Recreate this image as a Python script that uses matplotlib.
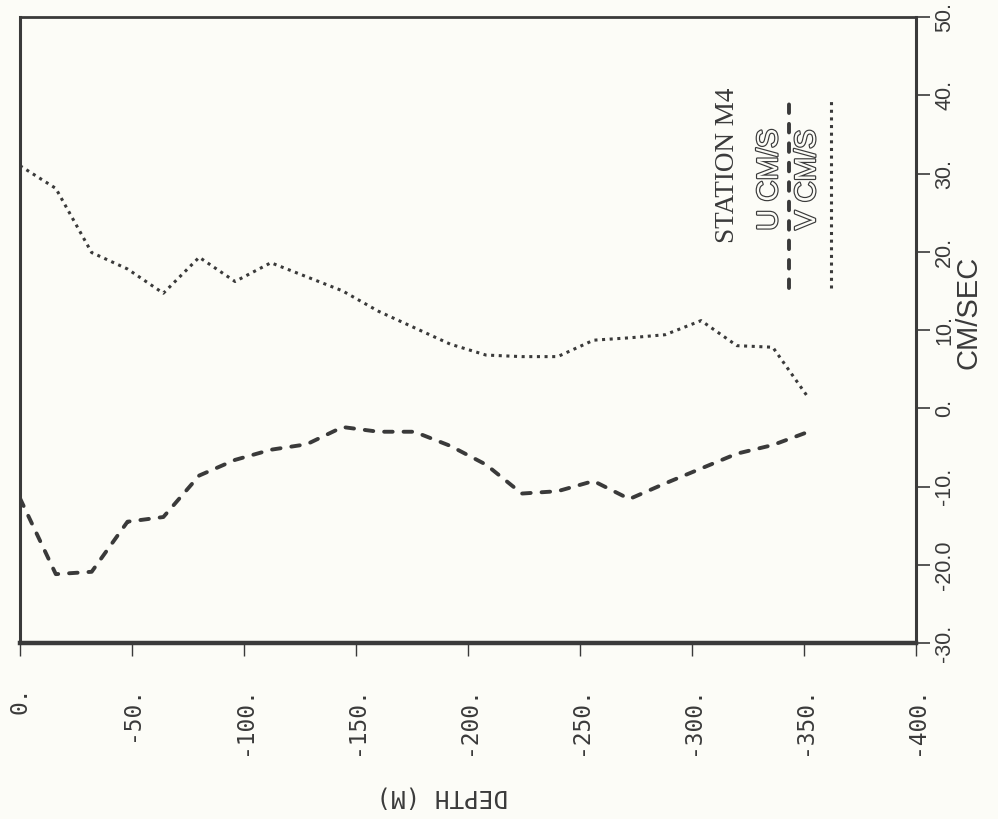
import matplotlib
matplotlib.use("Agg")
import matplotlib.pyplot as plt
import matplotlib.patheffects as pe

# Current-meter profile, station M4
depth_m = [0, -16, -32, -48, -64, -80, -96, -112, -128, -144, -160, -176,
           -192, -208, -224, -240, -256, -272, -288, -304, -320, -336, -352]
u_cms = [-11.5, -21.2, -20.9, -14.5, -13.9, -8.6, -6.6, -5.3, -4.6, -2.4,
         -3.0, -3.0, -4.8, -7.2, -10.9, -10.6, -9.3, -11.6, -9.6, -7.7,
         -5.8, -4.7, -3.0]
v_cms = [31.0, 28.1, 19.9, 17.8, 14.7, 19.3, 16.2, 18.6, 16.8, 15.0, 12.4,
         10.3, 8.2, 6.8, 6.6, 6.6, 8.7, 9.0, 9.4, 11.2, 8.0, 7.8, 1.3]

depth_ticks = [0, -50, -100, -150, -200, -250, -300, -350, -400]
depth_labels = ["0.", "-50.", "-100.", "-150.", "-200.", "-250.", "-300.",
                "-350.", "-400."]
speed_ticks = [-30, -20, -10, 0, 10, 20, 30, 40, 50]
speed_labels = ["-30.", "-20.0", "-10.", "0.", "10.", "20.", "30.", "40.", "50."]

ink = "#3a3a3a"
paper = "#fcfcf7"
dash_u = (0, (2.2, 2.8))
dot_v = (0, (1, 1.5))

fig = plt.figure(figsize=(9.98, 8.19), dpi=100, facecolor=paper)
ax = fig.add_axes([0.020, 0.2149, 0.898, 0.7643], facecolor=paper)

ax.plot(depth_m, u_cms, color=ink, lw=2.8, linestyle=dash_u,
        dash_capstyle="round")
ax.plot(depth_m, v_cms, color=ink, lw=2.2, linestyle=dot_v,
        dash_capstyle="butt")

ax.set_xlim(0, -400)
ax.set_ylim(-30, 50)

for side, w in (("left", 2.2), ("right", 2.2), ("top", 2.0), ("bottom", 3.2)):
    ax.spines[side].set_linewidth(w)
    ax.spines[side].set_color(ink)

mono = "DejaVu Sans Mono"
ax.set_xticks(depth_ticks)
ax.set_xticklabels(depth_labels, rotation=90, family=mono, fontsize=16.5,
                   color=ink)
ax.tick_params(axis="x", direction="out", length=9, width=1.0, colors=ink,
               pad=22)

ax.yaxis.tick_right()
ax.set_yticks(speed_ticks)
ax.set_yticklabels(speed_labels, rotation=90, family="Liberation Sans",
                   fontsize=15.5, color=ink, va="center")
ax.tick_params(axis="y", direction="out", length=10, width=1.2, colors=ink,
               pad=3)

# Axis titles
fig.text(0.970, 1 - 312 / 819, "CM/SEC", rotation=90, ha="center",
         va="center", family="Liberation Sans", fontsize=21, color=ink)
fig.text(0.443, 1 - 796 / 819, "DEPTH (M)", rotation=180, ha="center",
         va="center", family=mono, fontsize=17.5, color=ink)

# Legend block
ax.text(-316, 31.0, "STATION M4", rotation=90, ha="center", va="center",
        family="Liberation Serif", fontsize=19.5, color=ink)
hollow = [pe.Stroke(linewidth=1.7, foreground=ink), pe.Normal()]
ax.text(-334.4, 29.2, "U CM/S", rotation=90, ha="center", va="center",
        family="Liberation Sans", fontsize=21, color=paper,
        path_effects=hollow)
ax.text(-351.3, 29.2, "V CM/S", rotation=90, ha="center", va="center",
        family="Liberation Sans", fontsize=21, color=paper,
        path_effects=hollow)
ax.plot([-343.3, -343.3], [15.4, 39.7], color=ink, lw=2.8,
        linestyle=dash_u, dash_capstyle="round")
ax.plot([-362, -362], [15.4, 39.7], color=ink, lw=2.2, linestyle=dot_v)

fig.savefig("out.png", dpi=100, facecolor=paper)
